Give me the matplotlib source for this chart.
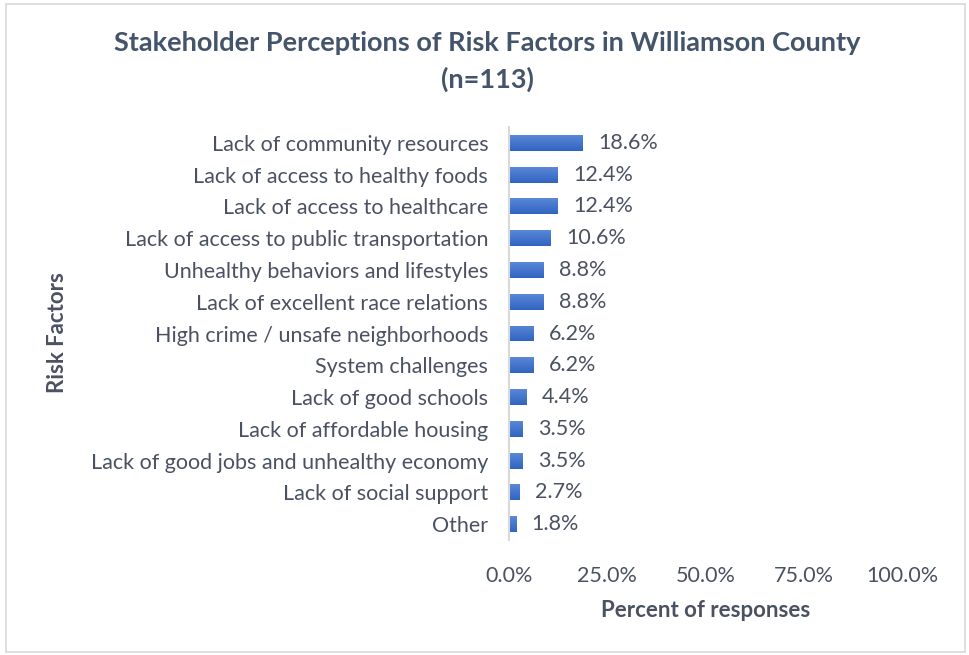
import matplotlib
matplotlib.use("Agg")
import matplotlib.pyplot as plt
import numpy as np
from matplotlib.patches import Rectangle
from matplotlib.colors import LinearSegmentedColormap

categories = [
    "Lack of community resources",
    "Lack of access to healthy foods",
    "Lack of access to healthcare",
    "Lack of access to public transportation",
    "Unhealthy behaviors and lifestyles",
    "Lack of excellent race relations",
    "High crime / unsafe neighborhoods",
    "System challenges",
    "Lack of good schools",
    "Lack of affordable housing",
    "Lack of good jobs and unhealthy economy",
    "Lack of social support",
    "Other",
]
values = [18.6, 12.4, 12.4, 10.6, 8.8, 8.8, 6.2, 6.2, 4.4, 3.5, 3.5, 2.7, 1.8]
xticks = [0, 25, 50, 75, 100]

plt.rcParams['font.family'] = ['Lato', 'DejaVu Sans']
txt = '#4A5262'
title_c = '#44546A'
fs = 15.5

fig = plt.figure(figsize=(9.69, 6.55), dpi=100)
ax = fig.add_axes([509/969, 1-540/655, (902-509)/969, (540-127)/655])

y = list(range(len(categories)))
bars = ax.barh(y, values, height=0.5, color='#4472C4', edgecolor='none')
ax.set_ylim(len(categories) - 0.5, -0.5)
ax.set_xlim(0, 100)

cmap = LinearSegmentedColormap.from_list('g', ['#5A88D8', '#3064C0'])
grad = np.linspace(0, 1, 64).reshape(-1, 1)
for b in bars:
    x0, y0 = b.get_x(), b.get_y()
    w, h = b.get_width(), b.get_height()
    im = ax.imshow(grad, cmap=cmap, aspect='auto', extent=(x0, x0 + w, y0 + h, y0),
                   origin='upper', zorder=b.get_zorder() + 0.1)
    im.set_clip_path(b)
ax.set_xlim(0, 100)
ax.set_ylim(len(categories) - 0.5, -0.5)

ax.set_yticks(y)
ax.set_yticklabels(categories, fontsize=fs, color=txt)
ax.set_xticks(xticks)
ax.set_xticklabels([f"{t:.1f}%" for t in xticks], fontsize=fs, color=txt)
ax.tick_params(axis='both', length=0)
ax.tick_params(axis='y', pad=15)
ax.tick_params(axis='x', pad=19)
for s in ['top', 'right', 'bottom']:
    ax.spines[s].set_visible(False)
ax.spines['left'].set_color('#D9D9D9')
ax.spines['left'].set_linewidth(1.5)
ax.spines['left'].set_zorder(5)

for yi, v in zip(y, values):
    ax.text(v + 4, yi, f"{v:.1f}%", va='center', ha='left', fontsize=fs, color=txt)

ax.set_xlabel("Percent of responses", fontsize=16, fontweight='bold', color=txt, labelpad=10)
fig.text(57/969, 1-333/655, "Risk Factors", rotation=90, fontsize=16, fontweight='bold',
         color=txt, ha='center', va='center')

fig.text(487/969, 1-43/655, "Stakeholder Perceptions of Risk Factors in Williamson County",
         fontsize=19.5, fontweight='bold', color=title_c, ha='center', va='center')
fig.text(487/969, 1-79/655, "(n=113)",
         fontsize=19.5, fontweight='bold', color=title_c, ha='center', va='center')

fig.patches.append(Rectangle((6/969, 3/655), 959/969, 648/655, transform=fig.transFigure,
                             fill=False, edgecolor='#D9D9D9', linewidth=1.2))

fig.savefig("out.png", dpi=100)
